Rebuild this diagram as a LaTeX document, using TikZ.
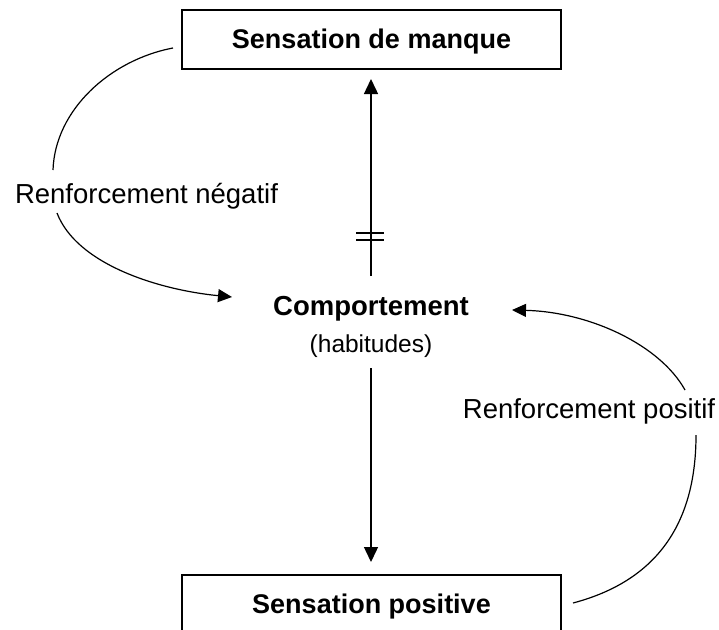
\documentclass[tikz,border=0pt]{standalone}
\usepackage{fontspec}
\setmainfont{Liberation Sans}
\usetikzlibrary{arrows.meta}
\begin{document}
\begin{tikzpicture}[x=1pt,y=-1pt,
  box/.style={draw, line width=1.6pt, inner sep=0pt, font=\fontsize{27}{32}\selectfont\bfseries},
  lbl/.style={anchor=base, inner sep=0pt, font=\fontsize{27.5}{32}\selectfont},
  conn/.style={line width=1.2pt},
  vline/.style={line width=1.4pt},
  tipbig/.style={-{Triangle[length=15pt,width=14pt]}},
  tipcurve/.style={-{Triangle[length=14pt,width=13pt]}}
]
\useasboundingbox (0,0) rectangle (719,629);
\clip (0,0) rectangle (719,629);
% boxes
\node[box, minimum width=379pt, minimum height=59pt, text height=20pt, text depth=3pt] (manque) at (371.5,39.5) {Sensation de manque};
\node[box, minimum width=379pt, minimum height=56pt, text height=20pt, text depth=0pt] (positive) at (371.5,603) {Sensation positive};
% centre texts
\node[lbl, font=\fontsize{27.5}{32}\selectfont\bfseries] (comport) at (371,315) {Comportement};
\node[lbl, font=\fontsize{24.5}{30}\selectfont] (habit) at (371,352) {(habitudes)};
% side labels
\node[lbl] (neg) at (146.5,203) {Renforcement négatif};
\node[lbl] (pos) at (589,418) {Renforcement positif};
% coordinates
\coordinate (vtopA) at (371,276);
\coordinate (vtopB) at (371,79);
\coordinate (vbotA) at (371,368);
\coordinate (vbotB) at (371,562);
\coordinate (barLa) at (356,233);
\coordinate (barRa) at (384,233);
\coordinate (barLb) at (356,240);
\coordinate (barRb) at (384,240);
\coordinate (nA) at (173,48);
\coordinate (nB) at (53,170);
\coordinate (nC) at (57,213);
\coordinate (nD) at (232,297);
\coordinate (pA) at (573,603);
\coordinate (pB) at (696,435);
\coordinate (pC) at (685,390);
\coordinate (pD) at (512,310);
% vertical connectors
\draw[vline, tipbig] (vtopA) -- (vtopB);
\draw[line width=1.2pt] (barLa) -- (barRa);
\draw[line width=1.2pt] (barLb) -- (barRb);
\draw[vline, tipbig] (vbotA) -- (vbotB);
% negative reinforcement
\draw[conn] (nA) .. controls (110,60) and (55,110) .. (nB);
\draw[conn, tipcurve] (nC) .. controls (77,265) and (160,290) .. (nD);
% positive reinforcement
\draw[conn] (pA) .. controls (660,580) and (696,520) .. (pB);
\draw[conn, tipcurve] (pC) .. controls (660,345) and (590,312) .. (pD);
\end{tikzpicture}
\end{document}
